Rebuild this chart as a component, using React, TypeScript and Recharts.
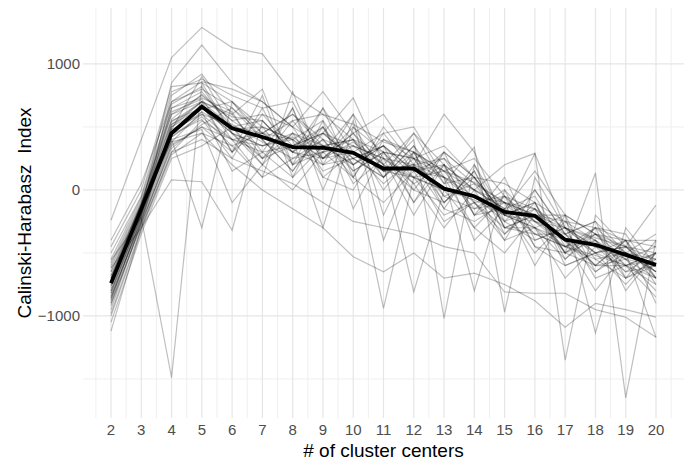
import { LineChart, Line, XAxis, YAxis, CartesianGrid } from 'recharts';

const centers = [2, 3, 4, 5, 6, 7, 8, 9, 10, 11, 12, 13, 14, 15, 16, 17, 18, 19, 20];
const xTicks = centers;
const xMinor = [1.5, 2.5, 3.5, 4.5, 5.5, 6.5, 7.5, 8.5, 9.5, 10.5, 11.5, 12.5, 13.5, 14.5, 15.5, 16.5, 17.5, 18.5, 19.5, 20.5];
const yTicks = [-1000, 0, 1000];
const yMinor = [-1500, -500, 500];

// mean index over all runs (thick black line)
const meanIndex = [-740, -150, 450, 660, 490, 420, 340, 335, 295, 170, 170, 10, -50, -175, -205, -395, -435, -515, -595];

// individual runs (thin grey lines)
const run01 = [-240, 400, 1050, 1290, 1130, 1080, 760, 600, 520, 380, 300, 150, 60, -100, -150, -300, -380, -450, -500];
const run02 = [-560, -220, -1490, 850, 450, 350, 420, 250, 380, 200, 100, 0, -80, -200, -300, -450, -520, -600, -700];
const run03 = [-620, -300, 80, 65, -320, 550, 300, 500, 200, 350, 150, 250, -100, -50, -250, -300, -500, -450, -650];
const run04 = [-700, -150, 850, 1150, 850, 700, 500, 780, 450, 600, 250, 350, 100, 50, -100, -250, -300, -400, -450];
const run05 = [-800, -200, 750, 920, 600, 800, 200, 650, 300, 450, 500, 100, 0, -150, 150, -200, -350, -500, -550];
const run06 = [-1120, -300, 300, 550, 400, 100, 780, 200, 600, -200, 300, -100, 150, -300, -200, -500, -600, -400, -700];
const run07 = [-950, -250, 500, 700, 300, 500, 400, -300, 500, 300, -100, 200, -200, 100, -400, -300, -700, -600, -750];
const run08 = [-450, 0, 820, 850, 700, 450, 600, 400, 100, 500, 200, 600, 300, -250, 0, -350, -250, -700, -400];
const run09 = [-880, -220, 450, 620, 150, 300, 100, 350, 200, -940, 100, -200, -100, -400, -300, -700, -450, -550, -800];
const run10 = [-600, -100, 600, 750, 550, 600, 350, 450, 730, 200, -810, 0, -300, -500, -200, -400, -800, -500, -600];
const run11 = [-780, -180, 400, 480, -100, 200, 0, 300, 350, 150, 400, -1020, 200, -200, -100, -500, -300, -800, -500];
const run12 = [-1050, -350, 250, 350, 500, 250, 450, 100, 0, 400, 250, 100, -800, 0, -450, -600, -500, -400, -900];
const run13 = [-680, -120, 700, 800, 650, 400, 550, 600, 400, 100, 350, 50, 340, -970, 100, -300, -400, -600, -500];
const run14 = [-900, -280, 350, 500, 300, 750, 100, 550, -150, 300, 50, -300, 0, 200, 290, -1350, -200, -450, -650];
const run15 = [-720, -160, 550, 650, 450, 200, 650, 0, 550, -400, 200, -150, -250, -100, -600, -200, -1135, -300, -600];
const run16 = [-820, -200, 650, 780, 500, 550, 300, 450, 250, 350, -100, 300, 100, -350, -150, -500, 135, -1650, -400];
const run17 = [-500, -50, 780, 880, 750, 650, 700, 250, 450, 100, 450, 200, -200, -50, -300, -400, -650, -500, -1170];
const run18 = [-980, -300, 300, 400, 250, 150, 50, -100, -250, -300, -350, -450, -500, -810, -820, -820, -950, -1010, -1170];
const run19 = [-850, -250, 380, 450, 200, 0, -150, -300, -530, -650, -500, -700, -660, -750, -880, -1090, -900, -950, -1010];
const run20 = [-650, -130, 480, 600, 520, 380, 250, 400, 300, 150, 200, 0, -50, -200, -250, -450, -400, -550, -600];
const run21 = [-760, -170, 420, 580, 350, 450, 400, 200, 350, 250, 100, 150, -150, -100, -350, -350, -500, -450, -700];
const run22 = [-840, -240, 520, 700, 600, 300, 350, 500, 150, 300, 250, -50, 50, -250, -150, -500, -350, -600, -550];
const run23 = [-700, -100, 380, 620, 480, 500, 200, 300, 400, 0, 300, 100, -100, -300, -200, -300, -450, -650, -500];
const run24 = [-580, -80, 620, 720, 400, 350, 450, 350, 200, 350, 150, 200, 0, -150, -350, -450, -550, -500, -650];
const run25 = [-900, -260, 330, 520, 650, 450, 300, 250, 450, 200, 0, -100, 100, -200, -300, -550, -350, -400, -750];
const run26 = [-740, -150, 460, 680, 300, 600, 500, 150, 250, 100, 350, -50, -150, 0, -250, -400, -600, -550, -450];
const run27 = [-620, -120, 560, 760, 550, 400, 150, 450, 350, 250, 200, 250, 50, -100, -200, -250, -400, -700, -550];
const run28 = [-1000, -320, 280, 450, 350, 100, 250, 300, 100, -100, 150, -250, -100, -350, -100, -600, -500, -600, -850];
const run29 = [-860, -210, 500, 640, 700, 500, 400, 550, 200, 400, 300, 150, 250, -50, -150, -350, -250, -500, -600];
const run30 = [-550, -60, 680, 820, 450, 250, 550, 250, 500, 150, 100, 0, -50, -250, -400, -300, -500, -750, -500];
const run31 = [-800, -190, 440, 560, 250, 650, 200, 400, 150, 300, 0, 300, -200, -150, -50, -450, -300, -350, -700];
const run32 = [-920, -270, 360, 500, 400, 300, 650, 100, 300, 50, 250, -100, 150, -300, -300, -200, -650, -450, -550];
const run33 = [-680, -140, 600, 700, 580, 550, 300, 650, 100, 450, 150, 100, -300, -50, -450, -500, -400, -650, -600];
const run34 = [-760, -160, 480, 900, 500, 200, 450, 300, 600, 250, 50, 200, 0, -400, 0, -350, -600, -400, -400];
const run35 = [-400, 50, 700, 860, 800, 700, 500, 350, 400, 200, 450, 50, 100, -200, -100, -550, -300, -500, -350];
const run36 = [-700, -180, 520, 650, 450, 350, 400, 250, 300, 150, 200, 100, -50, -100, -200, -200, -350, -450, -120];
const run37 = [-820, -200, 420, 600, 400, 450, 300, 200, 250, 350, 100, 300, 100, -200, 290, -300, -450, -500, -650];
const run38 = [-650, -110, 650, 730, 620, 250, 350, 450, 250, 100, 300, -150, 200, -300, -350, -450, -350, -550, -700];
const run39 = [-870, -230, 400, -300, 700, 400, 150, 500, 50, 250, -200, 200, -400, -150, -500, -250, -550, -700, -600];
const run40 = [-720, -150, 540, 700, 500, 450, 600, 350, 400, 300, 250, 150, 0, -100, -250, -350, -600, -600, -500];

const runs = [
  run01, run02, run03, run04, run05, run06, run07, run08, run09, run10,
  run11, run12, run13, run14, run15, run16, run17, run18, run19, run20,
  run21, run22, run23, run24, run25, run26, run27, run28, run29, run30,
  run31, run32, run33, run34, run35, run36, run37, run38, run39, run40,
];

const data = centers.map((k, i) => {
  const row: Record<string, number> = { k, mean: meanIndex[i] };
  runs.forEach((r, j) => {
    row[`r${j}`] = r[i];
  });
  return row;
});

const font = '"Liberation Sans", Arial, sans-serif';
const fmt = (v: number) => String(v).replace('-', '\u2212');

const App = () => {
  return (
    <div style={{ position: 'absolute', left: 0, top: 0, background: '#fff' }}>
      <LineChart
        width={696}
        height={462}
        data={data}
        margin={{ top: 8, right: 12, left: 0, bottom: 0 }}
        style={{ fontFamily: font }}
      >
        {/* minor grid */}
        <CartesianGrid xAxisId="minor" yAxisId="minor" stroke="#efefef" strokeWidth={1} syncWithTicks />
        {/* major grid */}
        <CartesianGrid stroke="#e6e6e6" strokeWidth={1.2} syncWithTicks />
        <XAxis
          dataKey="k"
          type="number"
          domain={[1.075, 20.925]}
          ticks={xTicks}
          allowDataOverflow
          axisLine={false}
          tickLine={false}
          tickSize={0}
          tickMargin={6}
          height={44}
          tick={{ fill: '#4d4d4d', fontSize: 15, fontFamily: font }}
          label={{
            value: '# of cluster centers',
            position: 'insideBottom',
            offset: 5,
            fill: '#000',
            fontSize: 19,
            fontFamily: font,
          }}
        />
        <XAxis
          xAxisId="minor"
          dataKey="k"
          type="number"
          domain={[1.075, 20.925]}
          ticks={xMinor}
          allowDataOverflow
          hide
        />
        <YAxis
          type="number"
          domain={[-1810, 1444]}
          ticks={yTicks}
          allowDataOverflow
          axisLine={false}
          tickLine={false}
          tickSize={0}
          tickMargin={3}
          width={83}
          tickFormatter={fmt}
          tick={{ fill: '#4d4d4d', fontSize: 15, fontFamily: font }}
          label={{
            value: 'Calinski-Harabasz\u00a0 Index',
            angle: -90,
            position: 'insideLeft',
            offset: 24,
            fill: '#000',
            fontSize: 19,
            fontFamily: font,
            style: { textAnchor: 'middle' },
          }}
        />
        <YAxis
          yAxisId="minor"
          type="number"
          domain={[-1810, 1444]}
          ticks={yMinor}
          allowDataOverflow
          hide
        />
        {runs.map((_, j) => (
          <Line
            key={j}
            dataKey={`r${j}`}
            stroke="#000"
            strokeOpacity={0.25}
            strokeWidth={1.2}
            dot={false}
            isAnimationActive={false}
          />
        ))}
        <Line
          dataKey="mean"
          stroke="#000"
          strokeWidth={3.8}
          dot={false}
          isAnimationActive={false}
        />
      </LineChart>
    </div>
  );
};

export default App;
